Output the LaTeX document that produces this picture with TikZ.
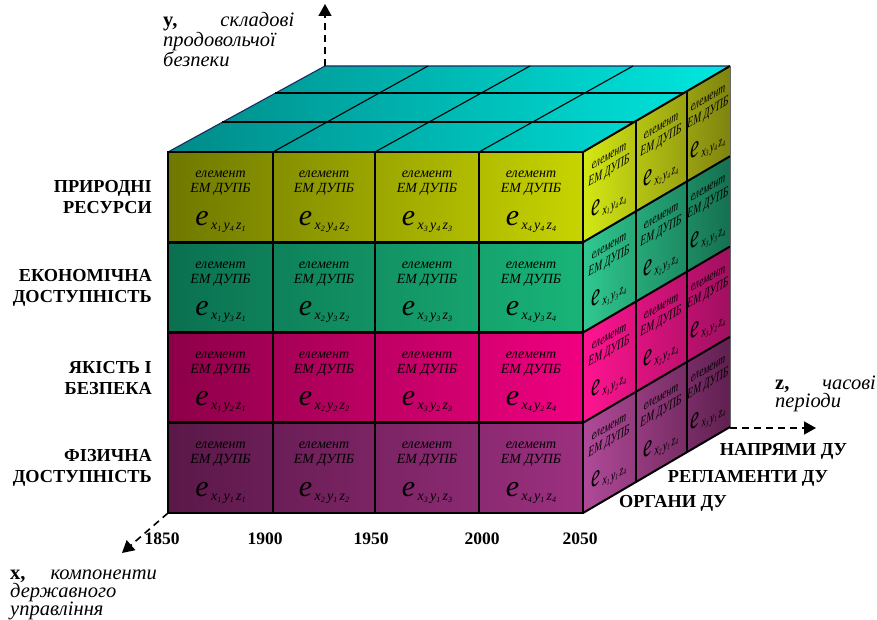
\documentclass[tikz,border=0pt]{standalone}
\usepackage{fontspec}
\setmainfont{Liberation Serif}
\usetikzlibrary{arrows.meta, calc}
\definecolor{topL}{HTML}{008A88}
\definecolor{topR}{HTML}{00E8E0}
\definecolor{oliveL}{HTML}{6F7800}
\definecolor{oliveR}{HTML}{C8D400}
\definecolor{greenL}{HTML}{0B7050}
\definecolor{greenR}{HTML}{19B478}
\definecolor{crimL}{HTML}{8C0048}
\definecolor{crimR}{HTML}{F00080}
\definecolor{purpL}{HTML}{5A1848}
\definecolor{purpR}{HTML}{9C3080}
\definecolor{soliveL}{HTML}{D4E814}
\definecolor{soliveR}{HTML}{7F8310}
\definecolor{sgreenL}{HTML}{30C890}
\definecolor{sgreenR}{HTML}{157050}
\definecolor{scrimL}{HTML}{FF1490}
\definecolor{scrimR}{HTML}{A01060}
\definecolor{spurpL}{HTML}{B04A98}
\definecolor{spurpR}{HTML}{602050}
\definecolor{edgeblue}{HTML}{1A2A60}
\newcommand{\subidx}[1]{\raisebox{-2pt}{\fontsize{8}{8}\selectfont #1}}
\newcommand{\elemtext}[3]{%
	\rule{0pt}{16pt}елемент\\ЕМ ДУПБ\\[15pt]%
	{\fontsize{30}{18}\selectfont e}\raisebox{-4pt}{\,x\subidx{#1}\,y\subidx{#2}\,z\subidx{#3}}}
\tikzset{%
	cell/.style={draw, line width=2.4pt, rectangle, minimum height=90pt, inner sep=0pt, align=center,
		font=\fontsize{14}{15}\selectfont\itshape},
	sidecell/.style={yslant=0.58, xscale=0.68, transform shape, inner sep=0pt, align=center,
		font=\fontsize{14}{15}\selectfont\itshape},
	gridline/.style={line width=2pt},
	topline/.style={line width=1.1pt},
	axisline/.style={line width=1.6pt, dash pattern=on 7pt off 5pt, -{Triangle[length=12pt,width=13pt]}},
	rowlabel/.style={anchor=east, align=right, inner sep=0pt, font=\fontsize{18.3}{21}\selectfont\bfseries},
	yearlabel/.style={font=\fontsize{17.5}{20}\selectfont\bfseries},
	dirlabel/.style={font=\fontsize{18.3}{20}\selectfont\bfseries},
	axislabel/.style={anchor=north west, align=left, inner sep=0pt, font=\fontsize{20.5}{18}\selectfont\itshape}
}
\begin{document}
\begin{tikzpicture}[x=1pt, y=-1pt]
	\useasboundingbox (0,0) rectangle (877,620);

	% top face
	\coordinate (topFL) at (168,152);
	\coordinate (topFR) at (583,152);
	\coordinate (topBR) at (730,66);
	\coordinate (topBL) at (325,66);
	\shade[left color=topL, right color=topR] (topFL) -- (topBL) -- (topBR) -- (topFR) -- cycle;
	\draw[topline, edgeblue] (topFL) -- (topBL) -- (topBR);
	\foreach \xa/\xb in {273/428, 375/530, 479/633}
		\draw[topline] (\xa,152) -- (\xb,66);
	\draw[topline] (222,122) -- (636,122);
	\draw[topline] (275,93) -- (687,93);

	% front and side rows
	\foreach \ro/\frontL/\frontR/\sideL/\sideR in {0/oliveL/oliveR/soliveL/soliveR, 90.25/greenL/greenR/sgreenL/sgreenR,
		180.5/crimL/crimR/scrimL/scrimR, 270.75/purpL/purpR/spurpL/spurpR} {
		\shade[left color=\frontL, right color=\frontR] (168,152+\ro) rectangle (583,152+\ro+90.25);
		\shade[left color=\sideL, right color=\sideR] (583,152+\ro) -- (730,66+\ro) -- (730,156.5+\ro) -- (583,242.25+\ro) -- cycle;
	}

	% front cells
	\foreach \rowid/\ry in {4/197, 3/287.5, 2/377.5, 1/468} {
		\foreach \colid/\cx/\cw in {1/220.5/105, 2/324/102, 3/427/104, 4/531/104}
			\node[cell, minimum width=\cw pt] (f\colid\rowid) at (\cx,\ry) {\elemtext{\colid}{\rowid}{\colid}};
	}

	% side face lines and text
	\foreach \ro in {0, 90.25, 180.5, 270.75, 361}
		\draw[gridline] (583,152+\ro) -- (730,66+\ro);
	\foreach \xa/\ya/\yb in {636/122/483, 687/92/453}
		\draw[gridline] (\xa,\ya) -- (\xa,\yb);
	\draw[line width=1pt, black!60] (730,66) -- (730,428);
	\foreach \rowid/\ro in {4/0, 3/90.25, 2/180.5, 1/270.75} {
		\node[sidecell] (sa\rowid) at (609,179+\ro) {\elemtext{1}{\rowid}{4}};
		\node[sidecell] (sb\rowid) at (661,149+\ro) {\elemtext{2}{\rowid}{4}};
		\node[sidecell] (sc\rowid) at (708,121+\ro) {\elemtext{3}{\rowid}{4}};
	}

	% axes
	\coordinate (yorig) at (325,66);
	\coordinate (ytip) at (325,4);
	\coordinate (xorig) at (168,513);
	\coordinate (xtip) at (122,553);
	\coordinate (zorig) at (730,428);
	\coordinate (ztip) at (816,428);
	\draw[axisline] (yorig) -- (ytip);
	\draw[axisline] (xorig) -- (xtip);
	\draw[axisline] (zorig) -- (ztip);

	\node[axislabel] (ylabel) at (163,12) {\textbf{\upshape y,}\hspace{43pt}складові\\продовольчої\\безпеки};
	\node[axislabel] (xlabel) at (10,570) {\textbf{\upshape x,}\hspace{25pt}компоненти\\державного\\управління};
	\node[axislabel] (zlabel) at (775,376) {\textbf{\upshape z,}\hspace{33pt}часові\\періоди};

	% row labels
	\node[rowlabel] (natural) at (152,197) {ПРИРОДНІ\\РЕСУРСИ};
	\node[rowlabel] (econ) at (152,288) {ЕКОНОМІЧНА\\ДОСТУПНІСТЬ};
	\node[rowlabel] (quality) at (152,378) {ЯКІСТЬ І\\БЕЗПЕКА};
	\node[rowlabel] (phys) at (152,468) {ФІЗИЧНА\\ДОСТУПНІСТЬ};

	% years
	\foreach \yr/\yx in {1850/162, 1900/265, 1950/371, 2000/482, 2050/580}
		\node[yearlabel] (y\yr) at (\yx,539) {\yr};

	% side labels
	\node[dirlabel] (dirs) at (783.5,451) {НАПРЯМИ ДУ};
	\node[dirlabel] (regs) at (748,478) {РЕГЛАМЕНТИ ДУ};
	\node[dirlabel] (orgs) at (673,503) {ОРГАНИ ДУ};
\end{tikzpicture}
\end{document}
